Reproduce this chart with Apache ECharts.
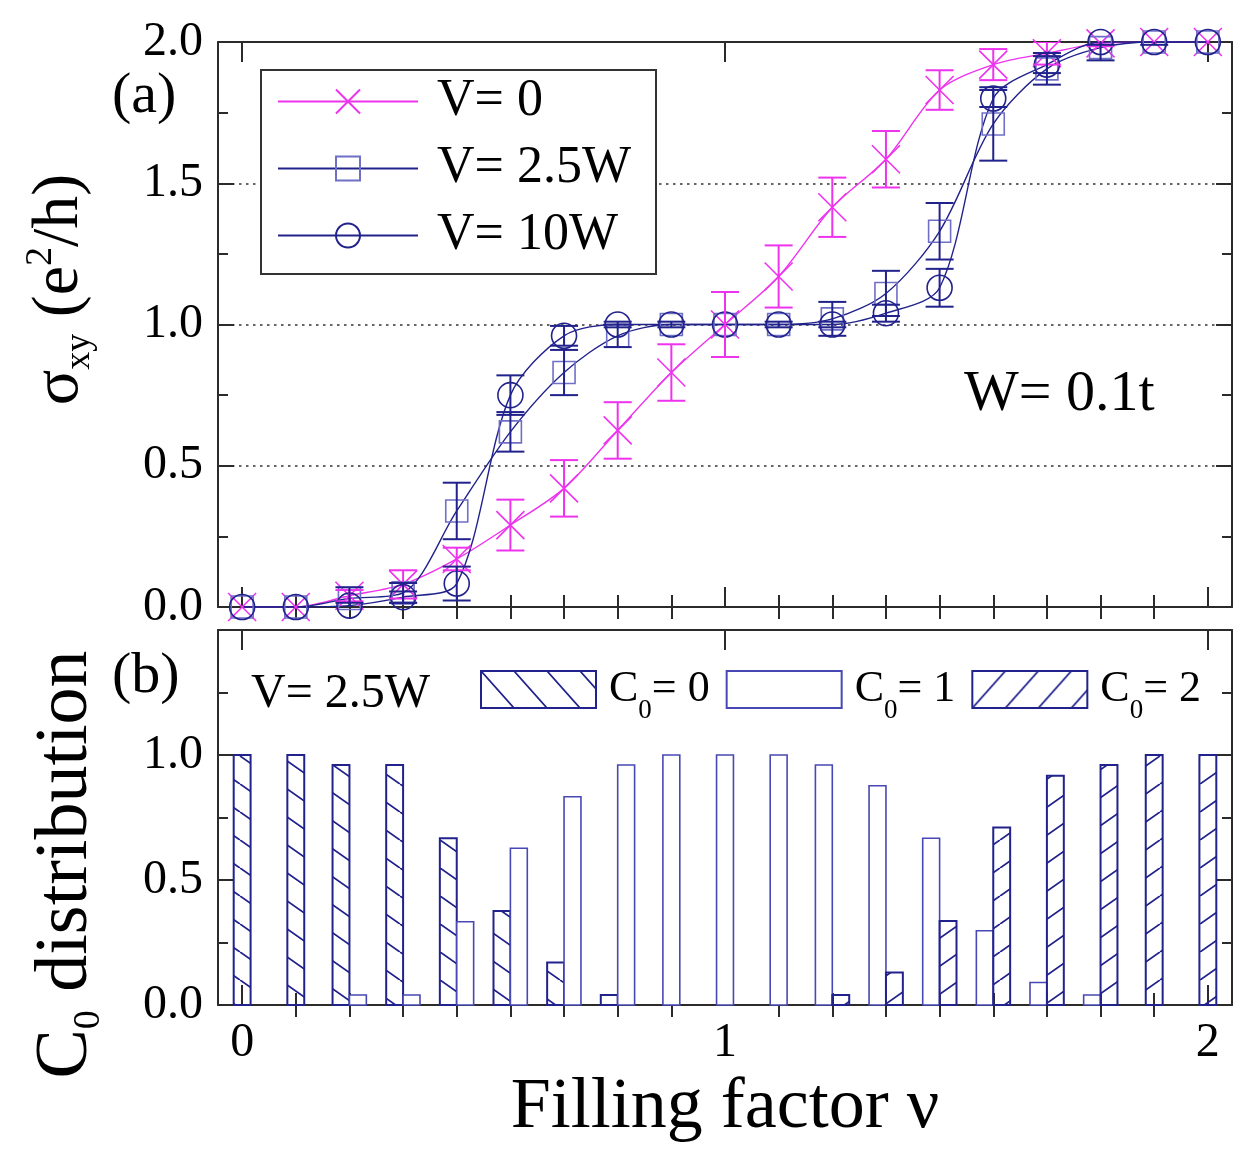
<!DOCTYPE html>
<html lang="en">
<head>
<meta charset="UTF-8">
<title>Hall conductance and C0 distribution vs filling factor</title>
<script src="https://cdn.jsdelivr.net/npm/echarts@6/dist/echarts.min.js"></script>
<style>
  html, body { margin: 0; padding: 0; background: #fff; }
  #chart { width: 1246px; height: 1149px; }
</style>
</head>
<body>
<div id="chart"></div>
<script>
// filling factor points, nu = k/9
const nu = [0, 1/9, 2/9, 3/9, 4/9, 5/9, 6/9, 7/9, 8/9, 1, 10/9, 11/9, 12/9, 13/9, 14/9, 15/9, 16/9, 17/9, 2];

// panel (a): sigma_xy in e^2/h, with error bar half-heights
const sigV0  = [0, 0, 0.04, 0.08, 0.17, 0.29, 0.42, 0.625, 0.83, 1.0, 1.17, 1.415, 1.585, 1.83, 1.92, 1.96, 1.995, 2.0, 2.0];
const errV0  = [0, 0, 0.02, 0.05, 0.04, 0.09, 0.10, 0.10, 0.10, 0.115, 0.11, 0.105, 0.10, 0.07, 0.055, 0.04, 0.01, 0, 0];
const sigV25 = [0, 0, 0.03, 0.05, 0.34, 0.62, 0.83, 0.96, 1.0, 1.0, 1.0, 1.02, 1.11, 1.33, 1.71, 1.905, 1.98, 2.0, 2.0];
const errV25 = [0, 0, 0.04, 0.035, 0.10, 0.07, 0.08, 0.04, 0.01, 0, 0.01, 0.06, 0.08, 0.10, 0.13, 0.056, 0.045, 0.01, 0];
const sigV10 = [0, 0, 0.005, 0.035, 0.083, 0.75, 0.96, 1.0, 1.0, 1.0, 1.0, 1.0, 1.04, 1.13, 1.80, 1.92, 2.0, 2.0, 2.0];
const errV10 = [0, 0, 0.01, 0.02, 0.06, 0.07, 0.035, 0.01, 0, 0, 0, 0.01, 0.03, 0.067, 0.03, 0.03, 0.01, 0, 0];

// panel (b): C0 distribution for V = 2.5W
const c0 = [1.0, 1.0, 0.96, 0.96, 0.667, 0.376, 0.17, 0.04, 0, 0, 0, 0, 0, 0, 0, 0, 0, 0, 0];
const c1 = [0, 0, 0.04, 0.04, 0.333, 0.627, 0.833, 0.96, 1.0, 1.0, 1.0, 0.96, 0.877, 0.667, 0.297, 0.09, 0.04, 0, 0];
const c2 = [0, 0, 0, 0, 0, 0, 0, 0, 0, 0, 0, 0.04, 0.13, 0.336, 0.71, 0.917, 0.96, 1.0, 1.0];

// ticks
const xMajor = [0, 1, 2];
const xMinor = [1/9, 2/9, 3/9, 4/9, 5/9, 6/9, 7/9, 8/9, 10/9, 11/9, 12/9, 13/9, 14/9, 15/9, 16/9, 17/9];

const FONT = 'Liberation Serif';
const AXIS = '#2b2b2b';
const PINK = '#ee33ee';
const NAVY = '#22228c';
const SQ = '#6f6fc6';
const OPEN = '#4848b4';
const BAR_W = 0.035;

// diagonal hatch tile, dir > 0 is "\" and dir < 0 is "/"
function hatch(w, h, dir) {
  const c = document.createElement('canvas');
  c.width = w; c.height = h;
  const g = c.getContext('2d');
  g.strokeStyle = NAVY; g.lineWidth = 1.8;
  g.beginPath();
  [-w, 0, w].forEach(function (dx) {
    if (dir > 0) { g.moveTo(dx, 0); g.lineTo(dx + w, h); }
    else { g.moveTo(dx, h); g.lineTo(dx + w, 0); }
  });
  g.stroke();
  return { image: c, repeat: 'repeat' };
}
const barBack = hatch(40, 28, 1), barFwd = hatch(40, 28, -1);
const keyBack = hatch(33, 37, 1), keyFwd = hatch(33, 37, -1);

var chart = echarts.init(document.getElementById('chart'));

function xAxes(grid, labels) {
  const base = { type: 'value', gridIndex: grid, min: -0.05, max: 2.05, splitLine: { show: false } };
  const line = { show: true, onZero: false, lineStyle: { color: AXIS, width: 2 } };
  const major = { inside: true, length: 20, customValues: xMajor, lineStyle: { color: AXIS, width: 2 } };
  const minor = { inside: true, length: 12, customValues: xMinor, lineStyle: { color: AXIS, width: 2 } };
  const bottom = Object.assign({}, base, { position: 'bottom', axisLine: line, axisTick: major, axisLabel: { show: false } });
  if (labels) {
    bottom.axisLabel = { customValues: xMajor, margin: 14, fontFamily: FONT, fontSize: 48, color: '#000' };
    bottom.name = 'Filling factor ν';
    bottom.nameLocation = 'middle';
    bottom.nameGap = 67;
    bottom.nameTextStyle = { fontFamily: FONT, fontSize: 72, color: '#000' };
  }
  return [
    bottom,
    Object.assign({}, base, { position: 'bottom', axisLine: { show: false }, axisTick: minor, axisLabel: { show: false } }),
    Object.assign({}, base, { position: 'top', axisLine: line, axisTick: major, axisLabel: { show: false } }),
    Object.assign({}, base, { position: 'top', axisLine: { show: false }, axisTick: minor, axisLabel: { show: false } })
  ];
}

function yAxes(grid, max, dotted, name) {
  const base = {
    type: 'value', gridIndex: grid, min: 0, max: max, interval: 0.5,
    axisLine: { show: true, onZero: false, lineStyle: { color: AXIS, width: 2 } },
    axisTick: { inside: true, length: 16, lineStyle: { color: AXIS, width: 2 } },
    minorTick: { show: true, splitNumber: 2, length: 10, lineStyle: { color: AXIS, width: 2 } },
    splitLine: { show: false }
  };
  const left = Object.assign({}, base, {
    position: 'left',
    axisLabel: {
      margin: 15, fontFamily: FONT, fontSize: 48, color: '#000', showMaxLabel: max === 2,
      formatter: function (v) { return v.toFixed(1); }
    },
    splitLine: { show: dotted, lineStyle: { color: '#333', width: 1.5, type: [2.5, 4.5] } }
  }, name);
  const right = Object.assign({}, base, { position: 'right', axisLabel: { show: false } });
  return [left, right];
}

const sub = { fontFamily: FONT, fontSize: 36, color: '#000', verticalAlign: 'bottom', lineHeight: 6 };
const main = { fontFamily: FONT, fontSize: 66, color: '#000', lineHeight: 76 };

const yNameA = {
  name: '{g|σ}{s|xy}{g| (e}{p|2}{g|/h)}',
  nameLocation: 'middle', nameRotate: 90, nameGap: 120,
  nameTextStyle: {
    padding: [0, 0, 0, 70],
    rich: { g: main, s: sub, p: { fontFamily: FONT, fontSize: 38, color: '#000', verticalAlign: 'top', lineHeight: 14 } }
  }
};
const yNameB = {
  name: '{g|C}{s|0}{g| distribution}',
  nameLocation: 'middle', nameRotate: 90, nameGap: 110,
  nameTextStyle: {
    padding: [0, 94, 0, 0],
    rich: {
      g: { fontFamily: FONT, fontSize: 74, color: '#000', lineHeight: 82 },
      s: { fontFamily: FONT, fontSize: 38, color: '#000', verticalAlign: 'bottom', lineHeight: 6 }
    }
  }
};

function line(name, data, color, symbol, size) {
  return {
    name: name, type: 'line', xAxisIndex: 0, yAxisIndex: 0,
    data: nu.map(function (x, i) { return [x, data[i]]; }),
    smooth: 0.3, symbol: symbol, symbolSize: size, z: 3,
    lineStyle: { color: color === SQ ? NAVY : color, width: 1.4 },
    itemStyle: { color: 'rgba(0,0,0,0)', borderColor: color, borderWidth: 1.6 },
    emphasis: { disabled: true }
  };
}

function errBars(name, data, err, color) {
  return {
    name: name, type: 'custom', xAxisIndex: 0, yAxisIndex: 0, clip: true, z: 4,
    data: nu.map(function (x, i) { return [x, data[i], err[i]]; }),
    renderItem: function (params, api) {
      const x = api.value(0), y = api.value(1), e = api.value(2);
      if (!e) return;
      const lo = api.coord([x, y - e]), hi = api.coord([x, y + e]);
      const st = { stroke: color, lineWidth: 2 };
      return {
        type: 'group', children: [
          { type: 'line', shape: { x1: lo[0], y1: lo[1], x2: hi[0], y2: hi[1] }, style: st },
          { type: 'line', shape: { x1: lo[0] - 14, y1: lo[1], x2: lo[0] + 14, y2: lo[1] }, style: st },
          { type: 'line', shape: { x1: hi[0] - 14, y1: hi[1], x2: hi[0] + 14, y2: hi[1] }, style: st }
        ]
      };
    }
  };
}

// bars dodge around the tick; zero-height categories leave no slot
function bars(name, cat, vals, fill, stroke, width) {
  return {
    name: name, type: 'custom', xAxisIndex: 4, yAxisIndex: 2, z: 3,
    itemStyle: { color: fill, borderColor: stroke, borderWidth: width },
    data: nu.map(function (x, i) { return [x, vals[i]]; }),
    renderItem: function (params, api) {
      const i = params.dataIndex;
      const all = [c0[i], c1[i], c2[i]];
      if (!(all[cat] > 0)) return;
      const present = [0, 1, 2].filter(function (k) { return all[k] > 0; });
      const n = present.length, j = present.indexOf(cat);
      const w = api.size([BAR_W, 0])[0];
      const base = api.coord([api.value(0), 0]);
      const top = api.coord([api.value(0), api.value(1)]);
      const cx = base[0] + (j - (n - 1) / 2) * w;
      return {
        type: 'rect',
        shape: { x: cx - w / 2, y: top[1], width: w, height: base[1] - top[1] },
        style: { fill: cat === 1 ? '#fff' : (cat === 0 ? barBack : barFwd), stroke: stroke, lineWidth: width }
      };
    }
  };
}

// legend text: top padding on the subscript pushes it below the baseline
const legendRich = {
  m: { fontFamily: FONT, fontSize: 44, color: '#000', lineHeight: 52 },
  s: { fontFamily: FONT, fontSize: 27, color: '#000', lineHeight: 4, padding: [42, 0, 0, 0] }
};

const option = {
  animation: false,
  backgroundColor: '#fff',
  grid: [
    { left: 218, top: 42, width: 1014, height: 565 },
    { left: 218, top: 630, width: 1014, height: 375 }
  ],
  xAxis: xAxes(0, false).concat(xAxes(1, true)),
  yAxis: yAxes(0, 2, true, yNameA).concat(yAxes(1, 1.5, false, yNameB)),
  legend: [
    {
      data: ['V= 0', 'V= 2.5W', 'V= 10W'],
      orient: 'vertical', left: 277, top: 68, padding: 0, itemGap: 0, z: 6,
      itemWidth: 140, itemHeight: 30, selectedMode: false,
      textStyle: { fontFamily: FONT, fontSize: 52, color: '#000', lineHeight: 67, padding: [0, 0, 0, 14] }
    },
    {
      data: [
        { name: 'C0= 0', icon: 'rect' },
        { name: 'C0= 1', icon: 'rect' },
        { name: 'C0= 2', icon: 'rect' }
      ],
      orient: 'horizontal', left: 480, top: 655, padding: 0, itemGap: 16, z: 6,
      itemWidth: 115, itemHeight: 37, selectedMode: false,
      formatter: function (n) { return '{m|C}{s|0}{m|= ' + n.slice(-1) + '}'; },
      textStyle: { padding: [0, 0, 0, 8], rich: legendRich }
    }
  ],
  graphic: [
    { type: 'rect', left: 260, top: 69, z: 5, shape: { width: 395, height: 204 }, style: { fill: '#fff', stroke: '#333', lineWidth: 2 } },
    { type: 'text', left: 112, top: 68, z: 5, style: { text: '(a)', font: '58px "Liberation Serif"', fill: '#000' } },
    { type: 'text', left: 112, top: 648, z: 5, style: { text: '(b)', font: '58px "Liberation Serif"', fill: '#000' } },
    { type: 'text', left: 964, top: 366, z: 5, style: { text: 'W= 0.1t', font: '58px "Liberation Serif"', fill: '#000' } },
    { type: 'text', left: 251, top: 670, z: 5, style: { text: 'V= 2.5W', font: '48px "Liberation Serif"', fill: '#000' } }
  ],
  series: [
    line('V= 0', sigV0, PINK, 'path://M0,0L10,10M10,0L0,10', 28),
    line('V= 2.5W', sigV25, SQ, 'rect', 22),
    line('V= 10W', sigV10, NAVY, 'circle', 25),
    errBars('V= 0 err', sigV0, errV0, PINK),
    errBars('V= 2.5W err', sigV25, errV25, NAVY),
    errBars('V= 10W err', sigV10, errV10, NAVY),
    bars('C0= 0', 0, c0, keyBack, NAVY, 2),
    bars('C0= 1', 1, c1, '#fff', OPEN, 1.6),
    bars('C0= 2', 2, c2, keyFwd, NAVY, 2)
  ]
};

chart.setOption(option);
</script>
</body>
</html>
